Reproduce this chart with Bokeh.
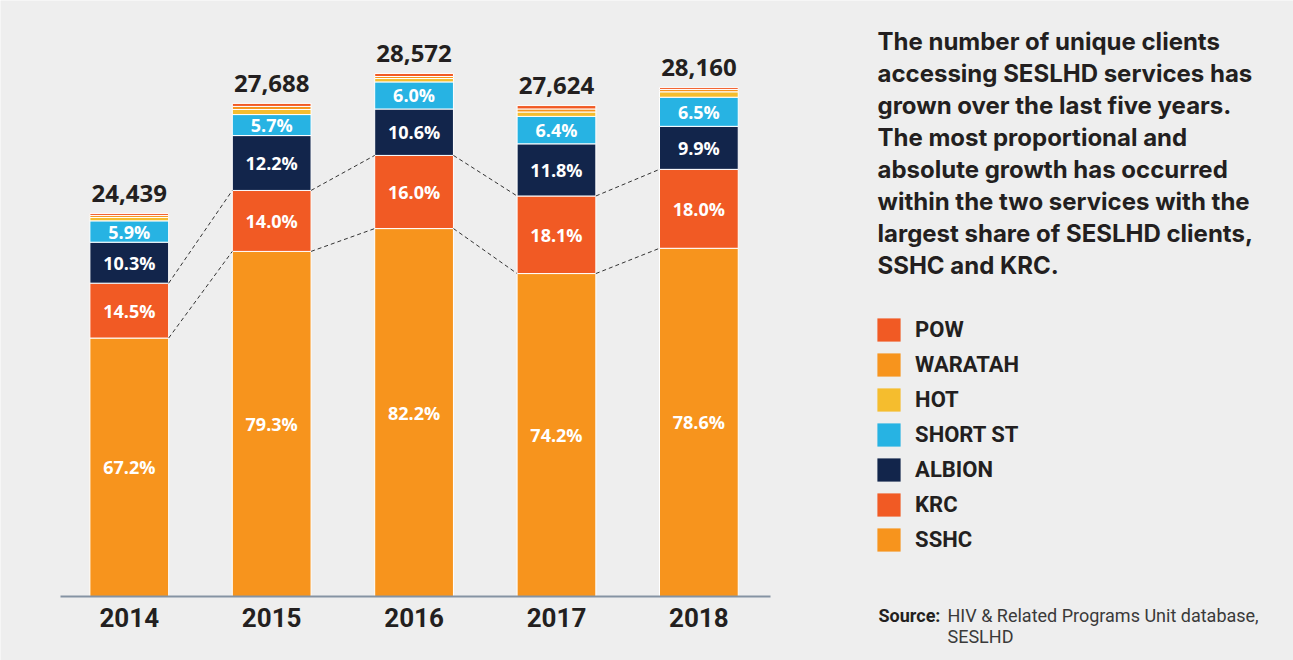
from bokeh.plotting import figure
from bokeh.models import ColumnDataSource, Range1d, Legend, LegendItem
from bokeh.core.properties import value
from bokeh.embed import file_html
from bokeh.resources import INLINE

# ---------------- data ----------------
years = ["2014", "2015", "2016", "2017", "2018"]
totals = [24439, 27688, 28572, 27624, 28160]

# stacked from bottom to top (client counts)
services = ["SSHC", "KRC", "ALBION", "SHORT ST", "HOT", "WARATAH", "POW"]
sshc = [20760, 23318, 23992, 22664, 23410]
krc = [1620, 1800, 2160, 2290, 2330]
albion = [1210, 1620, 1370, 1540, 1270]
short_st = [630, 620, 800, 810, 860]
hot = [100, 150, 100, 130, 160]
waratah = [60, 90, 60, 90, 70]
pow_ = [59, 90, 90, 100, 60]

sshc_pct = ["67.2%", "79.3%", "82.2%", "74.2%", "78.6%"]
krc_pct = ["14.5%", "14.0%", "16.0%", "18.1%", "18.0%"]
albion_pct = ["10.3%", "12.2%", "10.6%", "11.8%", "9.9%"]
short_pct = ["5.9%", "5.7%", "6.0%", "6.4%", "6.5%"]

colors = {
    "SSHC": "#F7941D",
    "KRC": "#F15A24",
    "ALBION": "#12254B",
    "SHORT ST": "#27B3E3",
    "HOT": "#F5BD2E",
    "WARATAH": "#F7941D",
    "POW": "#F15A24",
}

paragraph = [
    "The number of unique clients",
    "accessing SESLHD services has",
    "grown over the last five years.",
    "The most proportional and",
    "absolute growth has occurred",
    "within the two services with the",
    "largest share of SESLHD clients,",
    "SSHC and KRC.",
]
source_label = "Source:"
source_lines = ["HIV & Related Programs Unit database,", "SESLHD"]

# ---------------- layout / style constants ----------------
BG = "#EEEEEE"
DARK = "#231F20"
W, H = 1293, 660
AXIS_START = 13130     # truncated value axis, as in the original
AXIS_END = 30135
X_LO, X_HI = -0.483, 4.503
BAR_W = 0.553
PL, PR, PT, PB = 60, 770, 20, 596   # chart plotting area on the page (px)

# chart scales expressed over the whole canvas
kx = (X_HI - X_LO) / (PR - PL)
ky = (AXIS_END - AXIS_START) / (PB - PT)
x_range = Range1d(X_LO - PL * kx, X_LO - PL * kx + W * kx)
y_range = Range1d(AXIS_START - (H - PB) * ky, AXIS_START - (H - PB) * ky + H * ky)

series = {"SSHC": sshc, "KRC": krc, "ALBION": albion, "SHORT ST": short_st,
          "HOT": hot, "WARATAH": waratah, "POW": pow_}
xs = list(range(len(years)))

p = figure(width=W, height=H, x_range=x_range, y_range=y_range,
           output_backend="svg", toolbar_location=None,
           x_axis_location=None, y_axis_location=None, min_border=0)
p.extra_x_ranges = {"px": Range1d(0, W)}
p.extra_y_ranges = {"px": Range1d(H, 0)}
p.background_fill_color = BG
p.border_fill_color = BG
p.outline_line_color = None
p.grid.grid_line_color = None

# ---------------- stacked bars ----------------
bottoms, tops = {}, {}
run = [0] * len(xs)
for s in services:
    bottoms[s] = [max(r, AXIS_START) for r in run]
    run = [r + v for r, v in zip(run, series[s])]
    tops[s] = list(run)

fill_renderers = {}
for s in services:
    src = ColumnDataSource(dict(x=xs, bottom=bottoms[s], top=tops[s]))
    fill_renderers[s] = p.vbar(x="x", bottom="bottom", top="top", width=BAR_W,
                               source=src, fill_color=colors[s], line_color=None)
    p.vbar(x="x", bottom="bottom", top="top", width=BAR_W, source=src,
           fill_color=None, line_color="white", line_width=1)

# percentage labels inside segments
for s, labels in [("SSHC", sshc_pct), ("KRC", krc_pct),
                  ("ALBION", albion_pct), ("SHORT ST", short_pct)]:
    mids = [(b + t) / 2 for b, t in zip(bottoms[s], tops[s])]
    p.text(x=xs, y=mids, text=labels, text_color="white",
           text_font=value("Open Sans"), text_font_style="bold",
           text_font_size="18px", text_align="center", text_baseline="middle")

# totals above the bars
p.text(x=xs, y=totals, text=[f"{t:,}" for t in totals], text_color=DARK,
       text_font=value("Open Sans"), text_font_style="bold",
       text_font_size="24px", text_align="center", text_baseline="middle",
       y_offset=-20)

# dashed connectors between SSHC and KRC tops
for s in ["SSHC", "KRC"]:
    p.segment(x0=[i + BAR_W / 2 for i in xs[:-1]], y0=tops[s][:-1],
              x1=[i + 1 - BAR_W / 2 for i in xs[:-1]], y1=tops[s][1:],
              line_color="#333333", line_width=1, line_dash="4 3")

# category axis: baseline and year labels
p.segment(x0=[X_LO], y0=[AXIS_START], x1=[X_HI], y1=[AXIS_START],
          line_color="#8593A3", line_width=2)
p.text(x=xs, y=[AXIS_START] * len(xs), text=years, text_color=DARK,
       text_font=value("Roboto"), text_font_style="bold",
       text_font_size="26px", text_align="center", text_baseline="middle",
       y_offset=21)

# ---------------- legend (reverse of stacking order) ----------------
items = [LegendItem(label=s, renderers=[fill_renderers[s]])
         for s in reversed(services)]
legend = Legend(items=items, location=(874.1, H - 553.6), padding=0, margin=0,
                glyph_width=29, glyph_height=29, label_height=29, spacing=6,
                label_standoff=12, border_line_color=None,
                background_fill_alpha=0, label_text_font="Roboto",
                label_text_font_style="bold", label_text_font_size="22px",
                label_text_color=DARK)
p.add_layout(legend, "center")

# ---------------- right-hand text ----------------
p.text(x=[877] * len(paragraph), y=[40.5 + 32.1 * i for i in range(len(paragraph))],
       text=paragraph, text_color=DARK, text_font=value("Inter"),
       text_font_style="bold", text_font_size="24px",
       text_baseline="middle", text_align="left",
       x_range_name="px", y_range_name="px")

p.text(x=[878], y=[614.5], text=[source_label], text_color=DARK,
       text_font=value("Roboto"), text_font_style="bold",
       text_font_size="18px", text_baseline="middle",
       x_range_name="px", y_range_name="px")
p.text(x=[947] * len(source_lines),
       y=[614.5 + 21.8 * i for i in range(len(source_lines))],
       text=source_lines, text_color="#3A3A3A", text_font=value("Roboto"),
       text_font_size="18px", text_baseline="middle",
       x_range_name="px", y_range_name="px")

open("out.html", "w").write(file_html(p, INLINE))
